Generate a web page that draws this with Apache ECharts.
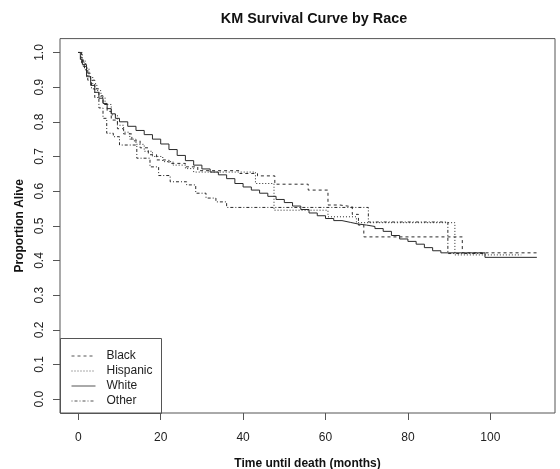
<!DOCTYPE html>
<html>
<head>
<meta charset="utf-8">
<script src="https://cdn.jsdelivr.net/npm/echarts@6/dist/echarts.min.js"></script>
<style>html,body{margin:0;padding:0;background:#fff;}#c{width:560px;height:469px;}</style>
</head>
<body>
<div id="c"></div>
<script>
var groups = ['Black', 'Hispanic', 'White', 'Other'];
var xTicks = [0, 20, 40, 60, 80, 100];
var yTicks = [0, 0.1, 0.2, 0.3, 0.4, 0.5, 0.6, 0.7, 0.8, 0.9, 1.0];

var blackT = [0, 0.6, 1.2, 2, 3, 4, 5, 6, 7, 8, 9.5, 11, 13, 15, 17, 19, 22, 26, 29, 39.2, 43.5, 47.7, 55.8, 60.6, 63.5, 66.5, 68, 69.3, 93.2, 111.3];
var blackS = [1, 0.98, 0.96, 0.94, 0.92, 0.895, 0.875, 0.85, 0.83, 0.805, 0.78, 0.765, 0.745, 0.725, 0.705, 0.69, 0.68, 0.67, 0.659, 0.651, 0.644, 0.62, 0.603, 0.56, 0.555, 0.533, 0.502, 0.468, 0.422, 0.422];

var hispT = [0, 1, 1.8, 2.6, 3.5, 4.5, 5.5, 6.5, 8, 9.5, 11, 12.5, 14, 16, 18, 20.5, 23, 26, 28, 43, 47.5, 60.6, 67.5, 91.4, 107.5];
var hispS = [1, 0.975, 0.955, 0.93, 0.91, 0.89, 0.87, 0.85, 0.82, 0.79, 0.77, 0.75, 0.735, 0.715, 0.70, 0.685, 0.675, 0.665, 0.655, 0.622, 0.545, 0.526, 0.509, 0.416, 0.416];

var whiteT = [0, 0.5, 1, 2, 3, 4, 5, 6, 7, 8, 9, 10, 12, 14, 16, 18, 20, 22, 24, 26, 28, 30, 32, 34, 36, 38, 40, 42, 44, 46, 48, 50, 52, 54, 56, 58, 60, 62, 64, 66, 68, 70, 72, 74, 76, 78, 80, 82, 84, 86, 88, 98.7, 111.3];
var whiteS = [1, 0.98, 0.965, 0.93, 0.905, 0.885, 0.868, 0.853, 0.838, 0.823, 0.81, 0.8, 0.787, 0.775, 0.763, 0.75, 0.736, 0.72, 0.703, 0.688, 0.675, 0.664, 0.655, 0.647, 0.636, 0.622, 0.612, 0.603, 0.594, 0.585, 0.576, 0.567, 0.557, 0.547, 0.537, 0.529, 0.521, 0.515, 0.51, 0.505, 0.502, 0.498, 0.492, 0.484, 0.472, 0.462, 0.455, 0.447, 0.437, 0.428, 0.422, 0.409, 0.409];

var otherT = [0, 0.8, 1.5, 2.3, 3.2, 4, 5, 6, 6.9, 8.5, 10, 14.2, 17.4, 19.5, 22.3, 26.3, 28.5, 31, 33.4, 36, 70.4, 89.7, 98.5];
var otherS = [1, 0.97, 0.95, 0.92, 0.895, 0.87, 0.84, 0.81, 0.767, 0.757, 0.733, 0.695, 0.67, 0.645, 0.627, 0.618, 0.594, 0.58, 0.569, 0.553, 0.511, 0.42, 0.42];

function pairs(t, s) { return t.map(function (v, i) { return [v, s[i]]; }); }

var FONT = '"Liberation Sans", Arial, Helvetica, sans-serif';
var INK = '#2a2a2a';

var styles = {
  Black: { type: [3, 3] },
  Hispanic: { type: [1, 2] },
  White: { type: 'solid' },
  Other: { type: [1, 2, 3, 2] }
};
var dataMap = {
  Black: pairs(blackT, blackS),
  Hispanic: pairs(hispT, hispS),
  White: pairs(whiteT, whiteS),
  Other: pairs(otherT, otherS)
};

var chart = echarts.init(document.getElementById('c'), null, { renderer: 'canvas' });
chart.setOption({
  animation: false,
  backgroundColor: '#fff',
  title: {
    text: 'KM Survival Curve by Race',
    left: 309, top: 7, textAlign: 'center',
    textStyle: { fontFamily: FONT, fontSize: 14.4, fontWeight: 'bold', color: '#111' }
  },
  grid: { left: 60, right: 5, top: 38.6, bottom: 56, outerBoundsMode: 'none', containLabel: false,
    show: true, borderColor: '#555', borderWidth: 1, backgroundColor: 'transparent' },
  legend: {
    orient: 'vertical', left: 71, top: 350, padding: 0,
    itemWidth: 24, itemHeight: 12, itemGap: 3,
    data: groups,
    itemStyle: { opacity: 0 },
    lineStyle: { width: 1, color: '#555' },
    textStyle: { fontFamily: FONT, fontSize: 12, color: '#222', padding: [0, 0, 0, 6] }
  },
  graphic: [{
    type: 'rect', shape: { x: 60.5, y: 338.5, width: 101, height: 75 },
    style: { fill: 'transparent', stroke: '#555', lineWidth: 1 }, z: 5
  }],
  xAxis: {
    type: 'value', min: -4.44, max: 115.7,
    name: 'Time until death (months)', nameLocation: 'middle', nameGap: 45,
    nameTextStyle: { fontFamily: FONT, fontSize: 12, fontWeight: 'bold', color: '#111' },
    axisLine: { show: false, onZero: false },
    splitLine: { show: false },
    axisTick: { show: true, inside: false, length: 7, customValues: xTicks, lineStyle: { color: '#555' } },
    axisLabel: { customValues: xTicks, margin: 19, fontFamily: FONT, fontSize: 12, color: '#222' }
  },
  yAxis: {
    type: 'value', min: -0.04, max: 1.04,
    name: 'Proportion Alive', nameLocation: 'middle', nameGap: 34, nameRotate: 90,
    nameTextStyle: { fontFamily: FONT, fontSize: 12, fontWeight: 'bold', color: '#111' },
    axisLine: { show: false, onZero: false },
    splitLine: { show: false },
    axisTick: { show: true, inside: false, length: 7, customValues: yTicks, lineStyle: { color: '#555' } },
    axisLabel: { customValues: yTicks, rotate: 90, margin: 14, fontFamily: FONT, fontSize: 12, color: '#222',
      formatter: function (v) { return v.toFixed(1); } }
  },
  series: groups.map(function (g) {
    return {
      name: g, type: 'line', step: 'end', symbol: 'none',
      data: dataMap[g],
      z: g === 'White' ? 3 : 2,
      lineStyle: { color: INK, width: 1, type: styles[g].type },
      itemStyle: { color: INK }
    };
  })
});
</script>
</body>
</html>
